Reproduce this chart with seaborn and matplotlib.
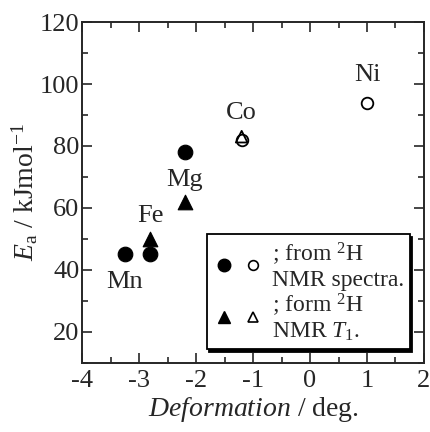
import numpy as np
import pandas as pd
import matplotlib
matplotlib.use("Agg")
import matplotlib.pyplot as plt
from matplotlib.lines import Line2D
from matplotlib.legend_handler import HandlerTuple
import seaborn as sns

# values
metals = ["Mn", "Fe", "Mg", "Co", "Ni"]
deformation = [-3.25, -2.8, -2.2, -1.2, 1.0]
ea_spectra = [45, 45, 78, 82, 94]          # circles, from 2H NMR spectra
ea_t1 = [np.nan, 50, 62, 83, np.nan]       # triangles, from 2H NMR T1
filled = [True, True, True, False, False]
label_y = [36, 57.5, 69, 90.5, 103]

df = pd.DataFrame({"metal": metals, "x": deformation, "spec": ea_spectra,
                   "t1": ea_t1, "filled": filled, "label_y": label_y})

sns.set_style("ticks")
plt.rcParams["font.family"] = ["Liberation Serif", "DejaVu Serif"]
plt.rcParams["mathtext.fontset"] = "custom"
plt.rcParams["mathtext.rm"] = "Liberation Serif"
plt.rcParams["mathtext.it"] = "Liberation Serif:italic"
plt.rcParams["axes.unicode_minus"] = False

fig = plt.figure(figsize=(4.3, 4.32), dpi=100)
ax = fig.add_axes([0.191, 0.160, 0.795, 0.789])

solid = df[df["filled"]]
hollow = df[~df["filled"]]
sns.scatterplot(data=solid, x="x", y="spec", marker="o", s=110,
                color="black", edgecolor="black", ax=ax, zorder=3)
sns.scatterplot(data=solid, x="x", y="t1", marker="^", s=110,
                color="black", edgecolor="black", ax=ax, zorder=3)
sns.scatterplot(data=hollow, x="x", y="spec", marker="o", s=70,
                facecolor="white", edgecolor="black", linewidth=1.3,
                ax=ax, zorder=3)
sns.scatterplot(data=hollow, x="x", y="t1", marker="^", s=70,
                facecolor="none", edgecolor="black", linewidth=1.3,
                ax=ax, zorder=4)

for _, row in df.iterrows():
    ax.text(row["x"], row["label_y"], row["metal"], ha="center",
            va="center", fontsize=19)

ax.set_xlim(-4, 2)
ax.set_ylim(10, 120)
ax.set_xticks(range(-4, 3))
ax.set_yticks(range(20, 121, 20))
ax.set_xticks(np.arange(-3.5, 2, 1), minor=True)
ax.set_yticks(range(10, 121, 20), minor=True)
ax.tick_params(which="both", direction="in", top=True, right=True,
               labelsize=19, width=1.2)
ax.tick_params(axis="x", pad=5)
ax.tick_params(axis="y", pad=2)
ax.tick_params(which="major", length=7)
ax.tick_params(which="minor", length=4)
for sp in ax.spines.values():
    sp.set_linewidth(1.4)

ax.set_xlabel(r"$\it{Deformation}$ / deg.", fontsize=20, labelpad=2)
ax.set_ylabel(r"$E_{\rm a}$ / kJmol$^{-1}$", fontsize=20, labelpad=0)

h_circ = (Line2D([], [], marker="o", ls="none", color="black", ms=9),
          Line2D([], [], marker="o", ls="none", mfc="white", mec="black",
                 ms=7, mew=1.2))
h_tri = (Line2D([], [], marker="^", ls="none", color="black", ms=9),
         Line2D([], [], marker="^", ls="none", mfc="white", mec="black",
                ms=7, mew=1.2))
leg = ax.legend([h_circ, h_tri],
                ["; from $^2$H\nNMR spectra.", "; form $^2$H\nNMR $T_1$."],
                handler_map={tuple: HandlerTuple(ndivide=None, pad=0.2)},
                loc="lower right", bbox_to_anchor=(0.958, 0.04),
                borderaxespad=0,
                fontsize=17, handlelength=2.2, handletextpad=0.3,
                labelspacing=0.0, borderpad=0.25, fancybox=False,
                framealpha=1, edgecolor="black",
                shadow={"color": "black", "alpha": 1})
leg.get_frame().set_linewidth(1.3)

fig.savefig("out.png", dpi=100)
